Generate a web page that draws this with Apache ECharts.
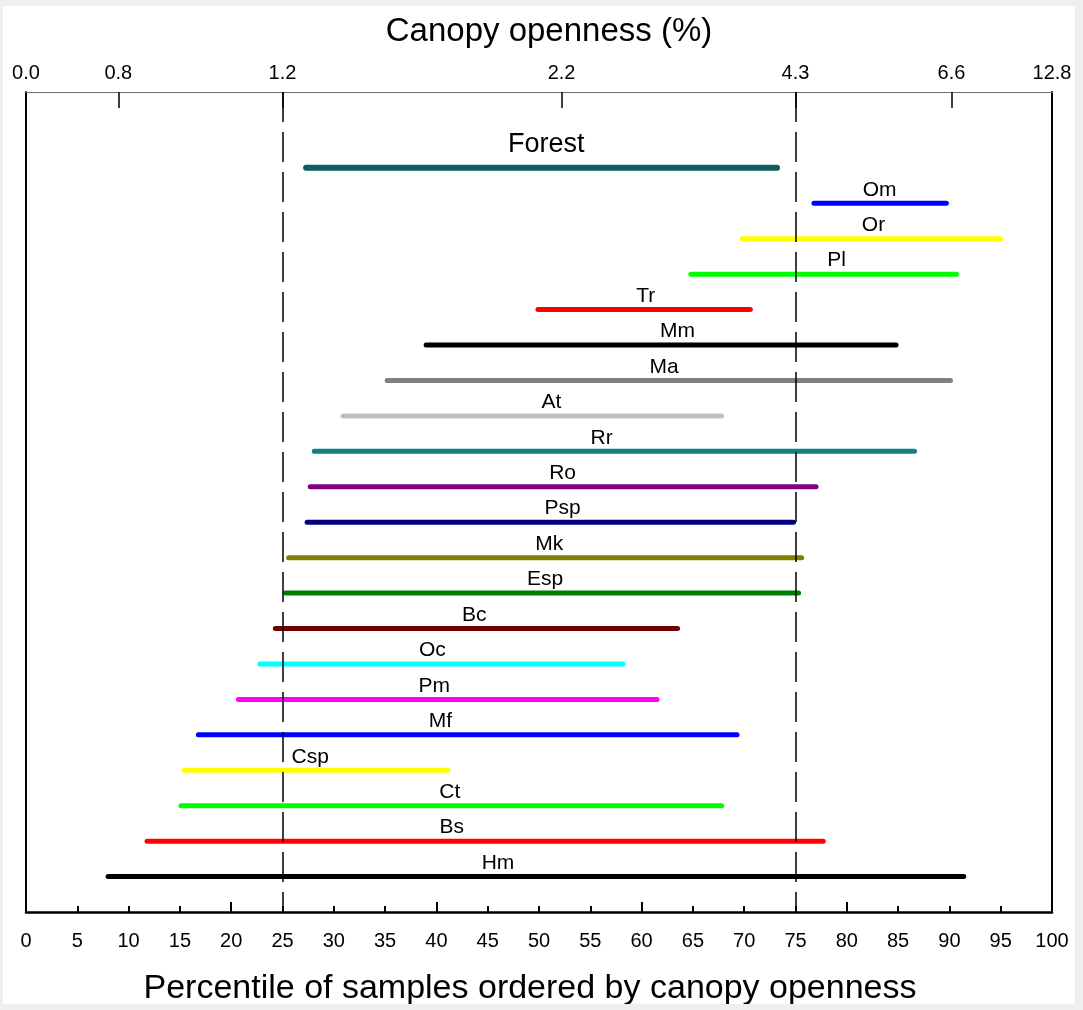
<!DOCTYPE html>
<html>
<head>
<meta charset="utf-8">
<script src="https://cdn.jsdelivr.net/npm/echarts@6/dist/echarts.min.js"></script>
<style>
  html, body { margin: 0; padding: 0; background: #efefef; width: 1083px; height: 1010px; overflow: hidden; }
  #c { position: absolute; left: 3px; top: 6px; width: 1072px; height: 998px; background: #ffffff; }
</style>
</head>
<body>
<div id="c"></div>
<script>
// ---- data ----
const species = ['Forest','Om','Or','Pl','Tr','Mm','Ma','At','Rr','Ro','Psp','Mk','Esp','Bc','Oc','Pm','Mf','Csp','Ct','Bs','Hm'];
const lowPct  = [27.3, 76.8, 69.8, 64.8, 49.9, 39.0, 35.2, 30.9, 28.1, 27.7, 27.4, 25.6, 25.3, 24.3, 22.8, 20.7, 16.8, 15.4, 15.1, 11.8, 8.0];
const highPct = [73.2, 89.7, 95.0, 90.7, 70.6, 84.8, 90.1, 67.8, 86.6, 77.0, 74.8, 75.6, 75.3, 63.5, 58.2, 61.5, 69.3, 41.1, 67.8, 77.7, 91.4];
const labelPct = [50.7, 83.2, 82.6, 79.0, 60.4, 63.5, 62.2, 51.2, 56.1, 52.3, 52.3, 51.0, 50.6, 43.7, 39.6, 39.8, 40.4, 27.7, 41.3, 41.5, 46.0];
const bottomTicks = [0,5,10,15,20,25,30,35,40,45,50,55,60,65,70,75,80,85,90,95,100];
const topTickPct = [0, 9, 25, 52.2, 75, 90.2, 100];
const topTickLabels = ['0.0','0.8','1.2','2.2','4.3','6.6','12.8'];
const quartileLines = [25, 75];

// ---- styles ----
const colors = ['#0e5e5f','#0000ff','#ffff00','#00ff00','#ff0000','#000000','#808080','#c0c0c0','#108080','#800080','#000080','#808000','#008000','#700000','#00ffff','#ff00ff','#0000ff','#ffff00','#00ff00','#ff0000','#000000'];
const FONT = "'Liberation Sans', Arial, sans-serif";

const rows = species.map((s, i) => [lowPct[i], highPct[i], i, labelPct[i]]);

const chart = echarts.init(document.getElementById('c'), null, { renderer: 'canvas' });
chart.setOption({
  animation: false,
  backgroundColor: '#ffffff',
  grid: { left: 23, right: 23, top: 86, bottom: 92 },
  graphic: [
    { type: 'text', x: 546, y: 26, style: { text: 'Canopy openness (%)', align: 'center', verticalAlign: 'middle', fontSize: 33, fontFamily: FONT, fill: '#000' } },
    { type: 'text', x: 527, y: 983, style: { text: 'Percentile of samples ordered by canopy openness', align: 'center', verticalAlign: 'middle', fontSize: 34, fontFamily: FONT, fill: '#000' } }
  ],
  xAxis: [
    {
      type: 'value', position: 'bottom', min: 0, max: 100, interval: 20,
      axisLine: { show: true, onZero: false, lineStyle: { color: '#000', width: 2.5 } },
      axisTick: { show: true, inside: true, length: 10, lineStyle: { color: '#000', width: 2 } },
      minorTick: { show: true, splitNumber: 4, length: 6, lineStyle: { color: '#000', width: 2 } },
      axisLabel: { customValues: bottomTicks, margin: 19, fontSize: 20, fontFamily: FONT, color: '#000' },
      splitLine: { show: false }
    },
    {
      type: 'value', position: 'top', min: 0, max: 100,
      axisLine: { show: true, onZero: false, lineStyle: { color: '#707070', width: 1.2 } },
      axisTick: { show: true, inside: true, length: 16, customValues: [9, 25, 52.2, 75, 90.2], lineStyle: { color: '#000', width: 1.5 } },
      axisLabel: {
        customValues: topTickPct, margin: 9, fontSize: 20, fontFamily: FONT, color: '#000',
        formatter: (v) => { const k = topTickPct.indexOf(v); return k >= 0 ? topTickLabels[k] : ''; }
      },
      splitLine: { show: false }
    }
  ],
  yAxis: [
    {
      type: 'value', position: 'left', inverse: true, min: -2.14, max: 21,
      axisLine: { show: true, onZero: false, lineStyle: { color: '#000', width: 2 } },
      axisTick: { show: false }, axisLabel: { show: false }, splitLine: { show: false }
    },
    {
      type: 'value', position: 'right', inverse: true, min: -2.14, max: 21,
      axisLine: { show: true, onZero: false, lineStyle: { color: '#000', width: 2 } },
      axisTick: { show: false }, axisLabel: { show: false }, splitLine: { show: false }
    }
  ],
  series: [
    {
      type: 'custom',
      xAxisIndex: 0, yAxisIndex: 0,
      data: rows,
      encode: { x: [0, 1, 3], y: 2 },
      renderItem: function (params, api) {
        const i = params.dataIndex;
        const a = api.coord([api.value(0), api.value(2)]);
        const b = api.coord([api.value(1), api.value(2)]);
        const l = api.coord([api.value(3), api.value(2)]);
        const big = i === 0;
        return {
          type: 'group',
          children: [
            { type: 'line', shape: { x1: a[0], y1: a[1], x2: b[0], y2: b[1] },
              style: { stroke: colors[i], lineWidth: big ? 6 : 5, lineCap: 'round' } },
            { type: 'text', x: l[0], y: a[1] - (big ? 10 : 3),
              style: { text: species[i], align: 'center', verticalAlign: 'bottom', fontSize: big ? 27 : 21, fontFamily: FONT, fill: '#000' } }
          ]
        };
      },
      markLine: {
        silent: true, symbol: ['none', 'none'], animation: false,
        label: { show: false },
        lineStyle: { color: '#000', width: 1.5, type: [30, 10] },
        data: quartileLines.map(v => ({ xAxis: v }))
      },
      z: 3
    }
  ]
});
</script>
</body>
</html>
